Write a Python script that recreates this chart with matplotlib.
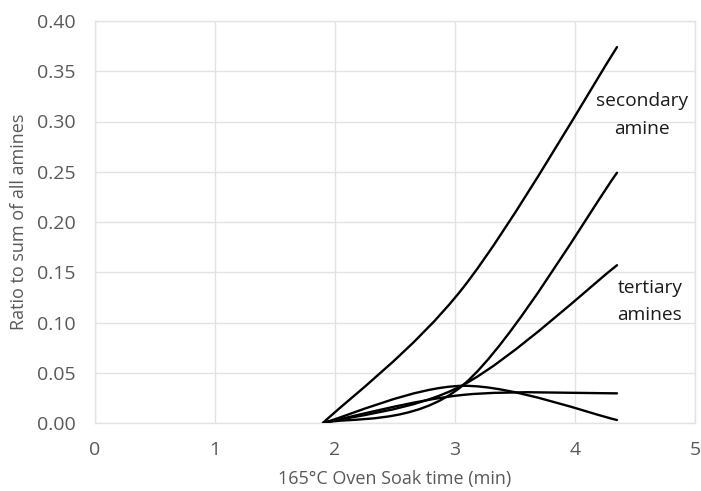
import matplotlib
matplotlib.use("Agg")
import matplotlib.pyplot as plt
from matplotlib.path import Path
from matplotlib.patches import PathPatch

plt.rcParams['font.family'] = ['Open Sans', 'DejaVu Sans']

# Oven soak time (min) of the measured points
time_min = [1.90, 3.07, 4.35]

# Ratio to sum of all amines for each series
secondary_amine = [0.000, 0.135, 0.374]
tertiary_a = [0.000, 0.038, 0.249]
tertiary_b = [0.000, 0.038, 0.157]
other_a = [0.000, 0.028, 0.0295]
other_b = [0.000, 0.037, 0.003]

x_ticks = [0, 1, 2, 3, 4, 5]
y_ticks = [0.00, 0.05, 0.10, 0.15, 0.20, 0.25, 0.30, 0.35, 0.40]


def smooth_path(xs, ys):
    """Spreadsheet-style smoothed line through the data points (cubic Bezier)."""
    pts = list(zip(xs, ys))
    n = len(pts)
    verts = [pts[0]]
    codes = [Path.MOVETO]
    for i in range(n - 1):
        p_prev = pts[i - 1] if i > 0 else pts[i]
        p0 = pts[i]
        p1 = pts[i + 1]
        p_next = pts[i + 2] if i + 2 < n else pts[i + 1]
        c1 = (p0[0] + (p1[0] - p_prev[0]) / 6, p0[1] + (p1[1] - p_prev[1]) / 6)
        c2 = (p1[0] - (p_next[0] - p0[0]) / 6, p1[1] - (p_next[1] - p0[1]) / 6)
        verts += [c1, c2, p1]
        codes += [Path.CURVE4] * 3
    return Path(verts, codes)


fig = plt.figure(figsize=(7.01, 4.91), dpi=100)
ax = fig.add_axes([95/701, 1 - 423/491, 600/701, 402/491])

for series in [secondary_amine, tertiary_a, tertiary_b, other_a, other_b]:
    patch = PathPatch(smooth_path(time_min, series), facecolor='none',
                      edgecolor='black', lw=1.7, capstyle='round',
                      joinstyle='round', zorder=3)
    ax.add_patch(patch)

ax.set_xlim(0, 5)
ax.set_ylim(0, 0.40)
ax.set_xticks(x_ticks)
ax.set_yticks(y_ticks)
ax.set_xticklabels([str(t) for t in x_ticks])
ax.set_yticklabels([f"{t:.2f}" for t in y_ticks])
ax.grid(True, color='#e3e3e3', lw=1.0, zorder=0)
for s in ax.spines.values():
    s.set_color('#e3e3e3')
    s.set_linewidth(1.0)
ax.tick_params(axis='both', length=0, labelsize=14, colors='#595959')
ax.tick_params(axis='y', pad=14)
ax.tick_params(axis='x', pad=13)

ax.set_xlabel("165°C Oven Soak time (min)", fontsize=13, color='#595959',
              labelpad=8)
ax.set_ylabel("Ratio to sum of all amines", fontsize=13, color='#595959',
              labelpad=6)

ann = dict(ha='center', va='baseline', fontsize=13.8, color='#1a1a1a')
ax.text(4.56, 0.3154, "secondary", **ann)
ax.text(4.56, 0.2880, "amine", **ann)
ax.text(4.625, 0.1294, "tertiary", **ann)
ax.text(4.625, 0.1020, "amines", **ann)

fig.savefig("out.png", dpi=100)
